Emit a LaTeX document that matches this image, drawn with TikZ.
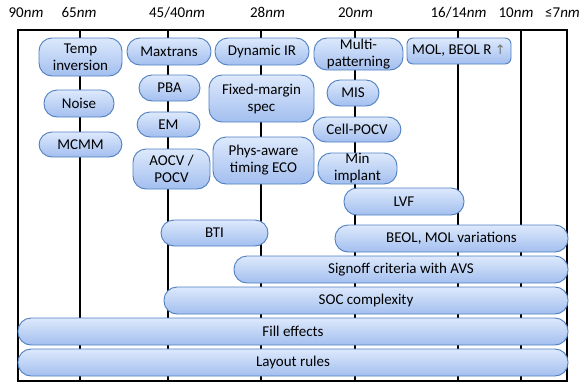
\documentclass[tikz,border=0pt]{standalone}
\usepackage{fontspec}
\setmainfont{Carlito}
\newfontfamily\symfont{DejaVu Sans}
\definecolor{topc}{HTML}{DDE9FC}
\definecolor{botc}{HTML}{A3BFEF}
\definecolor{bordc}{HTML}{4F7FC0}
\begin{document}
\begin{tikzpicture}[x=1pt,y=-1pt,
  pill/.style={draw=bordc, line width=0.9pt, rounded corners=13pt, top color=topc, bottom color=botc,
    align=center, inner sep=0pt, font=\fontsize{15}{17}\selectfont},
  hdr/.style={anchor=base, inner sep=0pt, font=\fontsize{15}{17}\selectfont},
  grid/.style={line width=1.3pt, black}]
\useasboundingbox (0,0) rectangle (581,383);
% frame and grid lines
\draw[grid] (18,30) rectangle (567,381);
\foreach \n/\x in {a/80,b/168,c/261,d/355,e/458,f/521}{
  \coordinate (t\n) at (\x,30);
  \coordinate (b\n) at (\x,381);
  \draw[grid] (t\n) -- (b\n);
}
% header
\node[hdr] (h90) at (26,17.5) {90\textit{nm}};
\node[hdr] (h65) at (79,17.5) {65\textit{nm}};
\node[hdr] (h45) at (177,17.5) {45/40\textit{nm}};
\node[hdr] (h28) at (267.5,17.5) {28\textit{nm}};
\node[hdr] (h20) at (355.5,17.5) {20\textit{nm}};
\node[hdr] (h16) at (458.5,17.5) {16/14\textit{nm}};
\node[hdr] (h10) at (516,17.5) {10\textit{nm}};
\node[hdr] (h7) at (562.5,17.5) {≤7\textit{nm}};
% boxes
\node[pill, minimum width=83pt, minimum height=38pt] (temp) at (80.5,57) {Temp\\inversion};
\node[pill, minimum width=70pt, minimum height=27pt] (noise) at (79,103.5) {Noise};
\node[pill, minimum width=83pt, minimum height=25pt] (mcmm) at (80.5,144.5) {MCMM};
\node[pill, minimum width=84pt, minimum height=27pt] (maxtrans) at (169,51.5) {Maxtrans};
\node[pill, minimum width=61pt, minimum height=26pt] (pba) at (169.5,88) {PBA};
\node[pill, minimum width=63pt, minimum height=25pt] (em) at (168.5,124.5) {EM};
\node[pill, minimum width=77pt, minimum height=40pt] (aocv) at (171.5,169) {AOCV /\\POCV};
\node[pill, minimum width=94pt, minimum height=27pt] (dynir) at (262,51.5) {Dynamic IR};
\node[pill, minimum width=105pt, minimum height=47pt] (fixed) at (261.5,98.5) {Fixed-margin\\spec};
\node[pill, minimum width=101pt, minimum height=47pt] (phys) at (263.5,160.5) {Phys-aware\\timing ECO};
\node[pill, minimum width=89pt, minimum height=32pt] (multi) at (358.5,54) {Multi-\\patterning};
\node[pill, rounded corners=6pt, minimum width=104pt, minimum height=26pt] (mol) at (459,51) {MOL, BEOL R {\color{black!55}\symfont\fontsize{13}{15}\selectfont ↑}};
\node[pill, minimum width=52pt, minimum height=26pt] (mis) at (353,93) {MIS};
\node[pill, minimum width=88pt, minimum height=25pt] (cellpocv) at (357,129.5) {Cell-POCV};
\node[pill, minimum width=79pt, minimum height=31pt] (minimp) at (357.5,168.5) {Min\\implant};
\node[pill, minimum width=120pt, minimum height=27pt] (lvf) at (404,201.5) {LVF};
\node[pill, minimum width=107pt, minimum height=26pt] (bti) at (214.5,233) {BTI};
\node[pill, minimum width=233pt, minimum height=27pt] (beol) at (451.5,238.5) {BEOL, MOL variations};
\node[pill, minimum width=334pt, minimum height=27pt] (signoff) at (401,269.5) {Signoff criteria with AVS};
\node[pill, minimum width=404pt, minimum height=27pt] (soc) at (366,300.5) {SOC complexity};
\node[pill, minimum width=550pt, minimum height=27pt] (fill) at (293,331.5) {Fill effects};
\node[pill, minimum width=550pt, minimum height=27pt] (layout) at (293,362.5) {Layout rules};
\end{tikzpicture}
\end{document}
